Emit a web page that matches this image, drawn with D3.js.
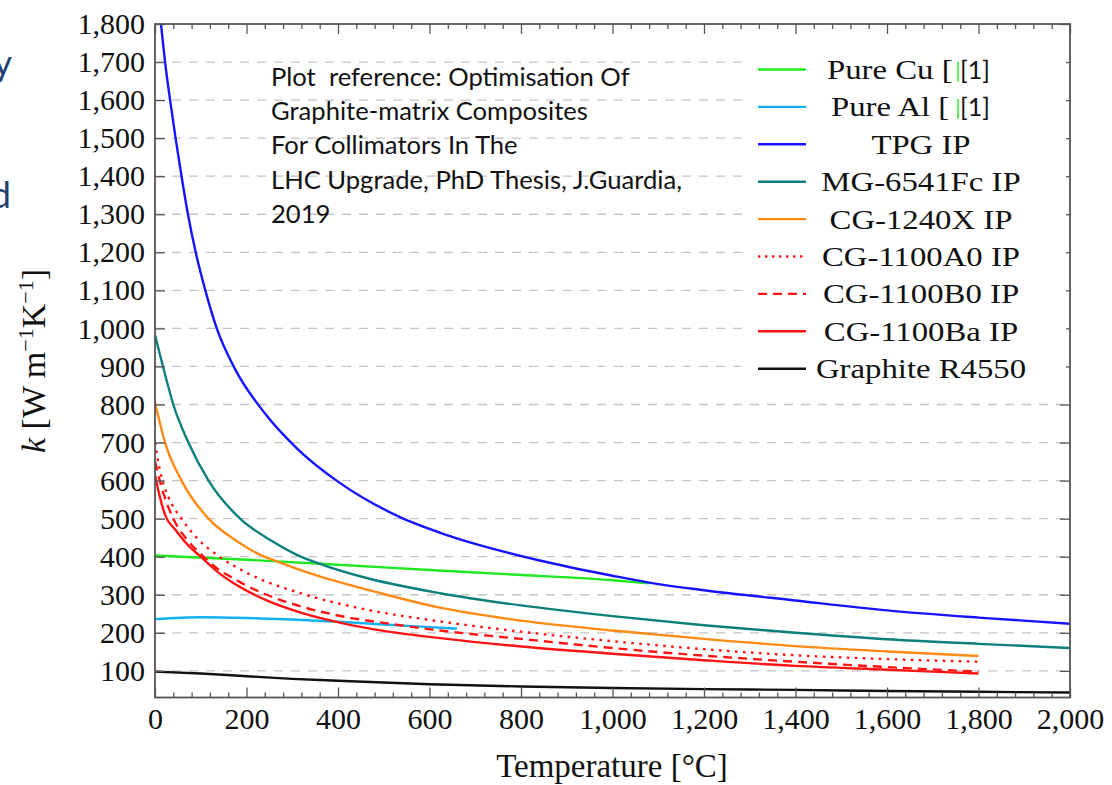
<!DOCTYPE html>
<html>
<head>
<meta charset="utf-8">
<script src="https://cdn.jsdelivr.net/npm/d3@7"></script>
<style>
  body { margin: 0; background: #fff; }
  svg { display: block; }
</style>
</head>
<body>
<svg id="chart" width="1112" height="785"></svg>
<script>
// --- data (T in °C, k in W/m/K) ---
const cuT = [0, 200, 400, 600, 800, 1000, 1080];
const cuK = [403, 392, 379, 365, 352, 338, 330];

const alT = [0, 100, 200, 300, 400, 500, 600, 660];
const alK = [236, 241, 239, 235, 229, 222, 215, 211];

const tpgT = [0, 13, 22, 33, 45, 58, 72, 89, 110, 135, 175, 240, 310, 404, 532, 640, 841, 1000, 1100, 1200, 1400, 1600, 1800, 2000];
const tpgK = [1960, 1800, 1700, 1600, 1500, 1400, 1300, 1200, 1100, 1000, 893, 777, 685, 594, 506, 456, 390, 350, 328, 312, 285, 259, 240, 224];

const mgT = [0, 25, 40, 73, 117, 186, 250, 310, 368, 450, 623, 800, 1000, 1200, 1400, 1600, 1800, 2000];
const mgK = [983, 865, 800, 700, 600, 500, 445, 405, 378, 348, 304, 272, 244, 220, 200, 183, 171, 160];

const cg1240T = [0, 22, 58, 117, 180, 230, 262, 350, 500, 623, 800, 1000, 1200, 1400, 1600, 1800];
const cg1240K = [805, 700, 600, 500, 440, 405, 390, 352, 302, 266, 232, 206, 184, 165, 151, 139];

const a0T = [0, 7, 15, 30, 58, 95, 135, 200, 324, 450, 623, 800, 1000, 1200, 1400, 1600, 1800];
const a0K = [700, 650, 605, 555, 500, 445, 405, 358, 302, 264, 230, 203, 178, 157, 141, 131, 124];

const b0T = [0, 15, 40, 70, 102, 135, 170, 200, 244, 320, 411, 500, 623, 800, 1000, 1200, 1400, 1600, 1800];
const b0K = [650, 580, 500, 445, 405, 370, 344, 324, 300, 269, 243, 226, 206, 184, 160, 140, 124, 110, 98];

const baT = [0, 8, 22, 45, 70, 98, 140, 171, 200, 244, 324, 411, 500, 623, 800, 1000, 1200, 1400, 1600, 1800];
const baK = [615, 570, 510, 470, 433, 402, 357, 331, 311, 285, 251, 225, 205, 186, 164, 145, 128, 113, 103, 93];

const grT = [0, 100, 200, 300, 400, 600, 800, 1000, 1200, 1400, 1600, 1800, 2000];
const grK = [98, 93, 86, 79, 74, 65, 59, 55, 52, 50, 47, 45, 43];

const legendLabels = ["Pure Cu", "Pure Al", "TPG IP", "MG-6541Fc IP", "CG-1240X IP",
  "CG-1100A0 IP", "CG-1100B0 IP", "CG-1100Ba IP", "Graphite R4550"];

const xTicks = [0, 200, 400, 600, 800, 1000, 1200, 1400, 1600, 1800, 2000];
const yTicks = [100, 200, 300, 400, 500, 600, 700, 800, 900, 1000, 1100, 1200, 1300, 1400, 1500, 1600, 1700, 1800];

const noteLines = ["Plot  reference: Optimisation Of", "Graphite-matrix Composites",
  "For Collimators In The", "LHC Upgrade, PhD Thesis, J.Guardia,", "2019"];

// --- styles for each series (same order as legend) ---
const colors = ["#1ee81e", "#12b0ee", "#1414ff", "#0e7f7f", "#ff8a14", "#ff1414", "#ff1414", "#ff1414", "#111111"];
const dashes = [null, null, null, null, null, "2.6,5.4", "9,6", null, null];
const dataT = [cuT, alT, tpgT, mgT, cg1240T, a0T, b0T, baT, grT];
const dataK = [cuK, alK, tpgK, mgK, cg1240K, a0K, b0K, baK, grK];

const series = legendLabels.map((name, i) => ({
  name: name,
  color: colors[i],
  dash: dashes[i],
  points: dataT[i].map((t, j) => [t, dataK[i][j]])
}));

const serif = "'Liberation Serif', 'Times New Roman', serif";
const sans = "Lato, 'Open Sans', sans-serif";
const x0 = 155, x1 = 1070, yTop = 24, yBot = 697.5;

const svg = d3.select("#chart");

const x = d3.scaleLinear().domain([0, 2000]).range([x0, x1]);
const y = d3.scaleLinear().domain([30, 1800]).range([yBot, yTop]);

// clip for curves
svg.append("defs").append("clipPath").attr("id", "plotClip")
  .append("rect")
  .attr("x", x0).attr("y", yTop)
  .attr("width", x1 - x0).attr("height", yBot - yTop);

// dashed horizontal grid
svg.append("g")
  .selectAll("line")
  .data(yTicks.filter(d => d < 1800))
  .enter()
  .append("line")
  .attr("x1", x0).attr("x2", x1)
  .attr("y1", d => y(d)).attr("y2", d => y(d))
  .attr("stroke", "#c4c4c4")
  .attr("stroke-width", 1.3)
  .attr("stroke-dasharray", "9,8");

// slide text behind the picture, cut by the left edge as in the reference
svg.append("text").attr("x", 12).attr("y", 76)
  .attr("text-anchor", "end")
  .style("font-family", sans)
  .style("font-size", "36px").attr("fill", "#1f3f73").text("y");
svg.append("text").attr("x", 11).attr("y", 208)
  .attr("text-anchor", "end")
  .style("font-family", sans)
  .style("font-size", "36px").attr("fill", "#1f3f73").text("d");

// reference note
svg.append("text")
  .attr("x", 271).attr("y", 86)
  .style("font-family", sans)
  .style("font-size", "25.6px")
  .style("white-space", "pre")
  .attr("fill", "#111")
  .selectAll("tspan")
  .data(noteLines)
  .enter()
  .append("tspan")
  .attr("x", 271)
  .attr("dy", (d, i) => i === 0 ? 0 : 34.2)
  .text(d => d);

// curves
const line = d3.line()
  .x(d => x(d[0]))
  .y(d => y(d[1]))
  .curve(d3.curveMonotoneX);

svg.append("g")
  .attr("clip-path", "url(#plotClip)")
  .selectAll("path")
  .data(series)
  .enter()
  .append("path")
  .attr("d", d => line(d.points))
  .attr("fill", "none")
  .attr("stroke", d => d.color)
  .attr("stroke-width", 2.4)
  .attr("stroke-dasharray", d => d.dash);

// axes (ticks point inward, frame drawn separately)
const minorX = d3.range(0, 2001, 40).filter(d => d % 200 !== 0);

svg.append("g")
  .attr("transform", "translate(0," + yBot + ")")
  .call(d3.axisBottom(x).tickValues(xTicks).tickFormat(d3.format(","))
    .tickSizeInner(-10).tickSizeOuter(0).tickPadding(10));
svg.append("g")
  .attr("transform", "translate(0," + yBot + ")")
  .call(d3.axisBottom(x).tickValues(minorX).tickFormat("").tickSizeInner(-5).tickSizeOuter(0));
svg.append("g")
  .attr("transform", "translate(0," + yTop + ")")
  .call(d3.axisTop(x).tickValues(xTicks).tickFormat("").tickSizeInner(-10).tickSizeOuter(0));
svg.append("g")
  .attr("transform", "translate(0," + yTop + ")")
  .call(d3.axisTop(x).tickValues(minorX).tickFormat("").tickSizeInner(-5).tickSizeOuter(0));

svg.append("g")
  .attr("transform", "translate(" + x0 + ",0)")
  .call(d3.axisLeft(y).tickValues(yTicks).tickFormat(d3.format(","))
    .tickSizeInner(-10).tickSizeOuter(0).tickPadding(10));
svg.append("g")
  .attr("transform", "translate(" + x1 + ",0)")
  .call(d3.axisRight(y).tickValues(yTicks).tickFormat("").tickSizeInner(-10).tickSizeOuter(0));

svg.selectAll(".domain").remove();
svg.selectAll(".tick line").attr("stroke", "#555").attr("stroke-width", 1.3);
svg.selectAll(".tick text")
  .style("font-family", serif)
  .style("font-size", "30px")
  .attr("fill", "#111");

// frame
svg.append("rect")
  .attr("x", x0).attr("y", yTop)
  .attr("width", x1 - x0).attr("height", yBot - yTop)
  .attr("fill", "none")
  .attr("stroke", "#555")
  .attr("stroke-width", 1.8);

// axis labels
svg.append("text")
  .attr("x", 612).attr("y", 777)
  .attr("text-anchor", "middle")
  .style("font-family", serif)
  .style("font-size", "33px")
  .attr("fill", "#111")
  .text("Temperature [°C]");

const yl = svg.append("text")
  .attr("transform", "translate(45,361) rotate(-90)")
  .attr("text-anchor", "middle")
  .style("font-family", serif)
  .style("font-size", "34px")
  .attr("fill", "#111");
yl.append("tspan").style("font-style", "italic").text("k");
yl.append("tspan").text(" [W m");
yl.append("tspan").attr("dy", -12).style("font-size", "22px").text("−1");
yl.append("tspan").attr("dy", 12).text("K");
yl.append("tspan").attr("dy", -12).style("font-size", "22px").text("−1");
yl.append("tspan").attr("dy", 12).text("]");

// legend
const legend = svg.append("g");
legend.append("rect")
  .attr("x", 745).attr("y", 46)
  .attr("width", 321).attr("height", 340)
  .attr("fill", "#fff");

const rowY = i => 69.5 + i * 37.4;

legend.selectAll("line.sample")
  .data(series)
  .enter()
  .append("line")
  .attr("class", "sample")
  .attr("x1", 758).attr("x2", 806)
  .attr("y1", (d, i) => rowY(i)).attr("y2", (d, i) => rowY(i))
  .attr("stroke", d => d.color)
  .attr("stroke-width", 2.4)
  .attr("stroke-dasharray", d => d.dash === "2.6,5.4" ? "2.4,4.6" : d.dash);

series.forEach((s, i) => {
  const cited = i < 2;
  const g = legend.append("g")
    .attr("transform", "translate(" + (cited ? 827 + i * 4 : 921) + "," + rowY(i) + ") scale(1.17,1)");
  g.append("text")
    .attr("text-anchor", cited ? "start" : "middle")
    .attr("dy", "0.34em")
    .style("font-family", serif)
    .style("font-size", "28px")
    .attr("fill", "#111")
    .text(cited ? s.name + " [" : s.name);
  if (cited) {
    legend.append("line")
      .attr("x1", 958).attr("x2", 958)
      .attr("y1", rowY(i) - 8).attr("y2", rowY(i) + 12)
      .attr("stroke", "#3ee83e").attr("stroke-width", 1.6);
    legend.append("text")
      .attr("x", 960).attr("y", rowY(i))
      .attr("dy", "0.36em")
      .style("font-family", sans)
      .style("font-size", "25px")
      .attr("fill", "#111")
      .text("[1]");
  }
});
</script>
</body>
</html>
